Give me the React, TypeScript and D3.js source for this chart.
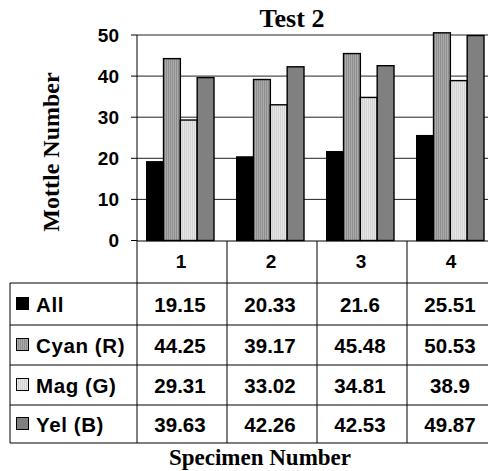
import React from "react";
import * as d3 from "d3";

const categories = ["1", "2", "3", "4"];
const seriesNames = ["All", "Cyan (R)", "Mag (G)", "Yel (B)"];
const allValues = [19.15, 20.33, 21.6, 25.51];
const cyanValues = [44.25, 39.17, 45.48, 50.53];
const magValues = [29.31, 33.02, 34.81, 38.9];
const yelValues = [39.63, 42.26, 42.53, 49.87];
const yTicks = [0, 10, 20, 30, 40, 50];
const valueLabels = [
  ["19.15", "20.33", "21.6", "25.51"],
  ["44.25", "39.17", "45.48", "50.53"],
  ["29.31", "33.02", "34.81", "38.9"],
  ["39.63", "42.26", "42.53", "49.87"],
];

const seriesValues = [allValues, cyanValues, magValues, yelValues];
const fills = ["#000000", "url(#pCyan)", "url(#pMag)", "#808080"];

const W = 488;
const H = 471;
const SANS = "'Liberation Sans', Arial, sans-serif";
const SERIF = "'Liberation Serif', 'Times New Roman', serif";

export default function App() {
  const plotLeft = 137;
  const x = d3.scaleBand<string>().domain(categories).range([plotLeft, plotLeft + 360]).padding(0);
  const inner = d3.scaleBand<string>().domain(seriesNames).range([9.7, 77]).padding(0);
  const y = d3.scaleLinear().domain([0, 50]).range([240.5, 35]);
  const rowEdges = [241, 283, 325, 365, 405, 443];
  const tableLeft = 10;

  return (
    <svg width={W} height={H} style={{ position: "absolute", left: 0, top: 0 }}>
      <defs>
        <pattern id="pCyan" width={2} height={4} patternUnits="userSpaceOnUse">
          <rect width={2} height={4} fill="#ababab" />
          <rect width={1} height={4} fill="#8e8e8e" />
        </pattern>
        <pattern id="pMag" width={2} height={4} patternUnits="userSpaceOnUse">
          <rect width={2} height={4} fill="#e6e6e6" />
          <rect width={1} height={4} fill="#d2d2d2" />
        </pattern>
      </defs>
      <rect width={W} height={H} fill="#ffffff" />

      {/* title */}
      <text x={292} y={26.5} textAnchor="middle" fontFamily={SERIF} fontWeight="bold" fontSize={26}>
        Test 2
      </text>

      {/* gridlines */}
      {yTicks.filter((t) => t > 0).map((t) => (
        <line key={"g" + t} x1={plotLeft} x2={W} y1={y(t)} y2={y(t)} stroke="#222" strokeWidth={1} />
      ))}

      {/* bars */}
      {categories.map((c, ci) =>
        seriesNames.map((s, si) => {
          const v = seriesValues[si][ci];
          const bx = (x(c) as number) + (inner(s) as number);
          return (
            <rect
              key={c + s}
              x={bx}
              y={y(v)}
              width={inner.bandwidth()}
              height={y(0) - y(v)}
              fill={fills[si]}
              stroke="#000"
              strokeWidth={1.4}
            />
          );
        })
      )}

      {/* y axis */}
      <line x1={plotLeft} x2={plotLeft} y1={35} y2={443} stroke="#000" strokeWidth={1} />
      {yTicks.map((t) => (
        <g key={"t" + t}>
          <line x1={plotLeft - 6} x2={plotLeft} y1={y(t)} y2={y(t)} stroke="#000" strokeWidth={1} />
          <text
            x={119}
            y={y(t) + 6.8}
            textAnchor="end"
            fontFamily={SANS}
            fontWeight="bold"
            fontSize={19}
          >
            {t}
          </text>
        </g>
      ))}

      {/* axis title */}
      <text
        transform={`translate(59,152) rotate(-90)`}
        textAnchor="middle"
        fontFamily={SERIF}
        fontWeight="bold"
        fontSize={24}
      >
        Mottle Number
      </text>

      {/* table */}
      <line x1={plotLeft} x2={W} y1={rowEdges[0]} y2={rowEdges[0]} stroke="#000" strokeWidth={1} />
      {rowEdges.slice(1).map((r) => (
        <line key={"r" + r} x1={tableLeft} x2={W} y1={r} y2={r} stroke="#000" strokeWidth={1} />
      ))}
      <line x1={tableLeft} x2={tableLeft} y1={rowEdges[1]} y2={rowEdges[5]} stroke="#000" strokeWidth={1} />
      {categories.slice(1).map((c) => (
        <line
          key={"v" + c}
          x1={x(c) as number}
          x2={x(c) as number}
          y1={rowEdges[0]}
          y2={rowEdges[5]}
          stroke="#000"
          strokeWidth={1}
        />
      ))}
      {categories.map((c) => (
        <text
          key={"h" + c}
          x={(x(c) as number) + x.bandwidth() / 2 - 1}
          y={rowEdges[0] + 27}
          textAnchor="middle"
          fontFamily={SANS}
          fontWeight="bold"
          fontSize={19}
        >
          {c}
        </text>
      ))}
      {seriesNames.map((s, si) => {
        const top = rowEdges[si + 1];
        const bottom = rowEdges[si + 2];
        const mid = (top + bottom) / 2;
        return (
          <g key={"row" + s}>
            <rect x={16.5} y={mid - 6.5} width={12} height={12} fill={fills[si]} stroke="#000" strokeWidth={1} />
            <text x={36} y={mid + 7.5} fontFamily={SANS} fontWeight="bold" fontSize={20.5} letterSpacing={0.6}>
              {s}
            </text>
            {categories.map((c, ci) => (
              <text
                key={"val" + c}
                x={(x(c) as number) + x.bandwidth() / 2 - 2}
                y={mid + 7.5}
                textAnchor="middle"
                fontFamily={SANS}
                fontWeight="bold"
                fontSize={20.5}
              >
                {valueLabels[si][ci]}
              </text>
            ))}
          </g>
        );
      })}

      {/* x axis title */}
      <text x={260} y={465} textAnchor="middle" fontFamily={SERIF} fontWeight="bold" fontSize={23}>
        Specimen Number
      </text>
    </svg>
  );
}
